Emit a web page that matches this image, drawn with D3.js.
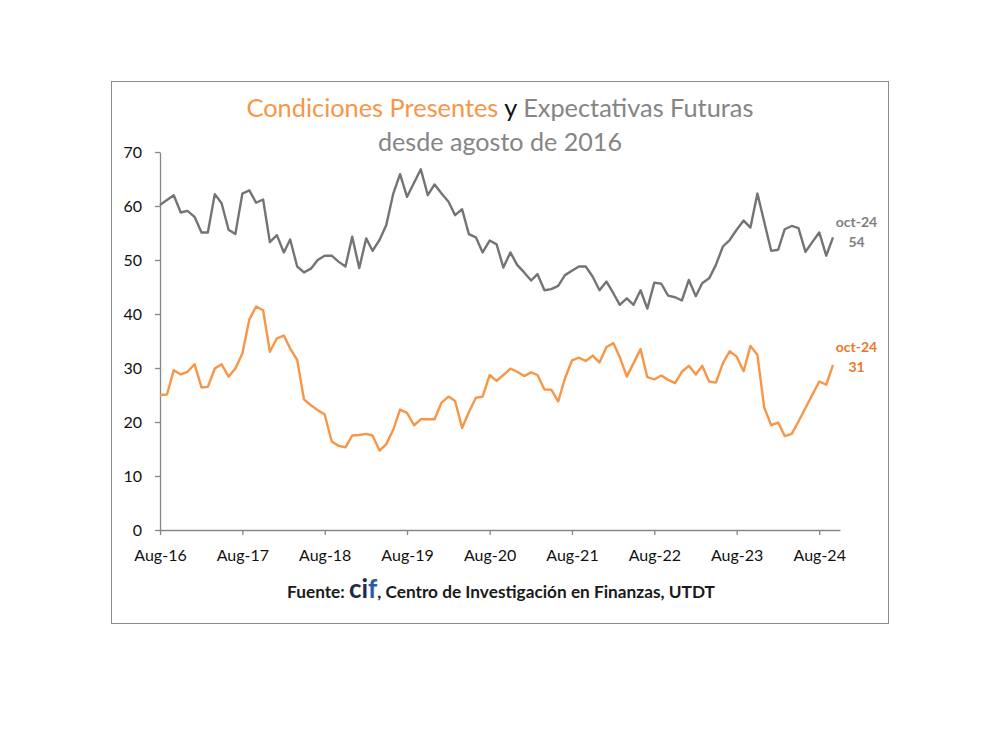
<!DOCTYPE html>
<html><head><meta charset="utf-8">
<script src="https://cdn.jsdelivr.net/npm/d3@7"></script>
<style>
body{margin:0;background:#fff;}
text{font-family:Lato,"Noto Sans",sans-serif;}
</style>
</head><body>
<svg id="chart" width="992" height="744"></svg>
<script>
// ---- data ----
const startMonth = "2016-08";
const expectativasFuturas = [
 60.2,61.1,62.0,58.8,59.1,58.0,55.1,55.1,62.2,60.5,
 55.6,54.8,62.3,62.9,60.6,61.2,53.3,54.6,51.4,53.8,
 48.8,47.7,48.4,50.0,50.8,50.8,49.7,48.8,54.3,48.5,
 54.0,51.7,53.7,56.5,62.3,65.9,61.7,64.3,66.8,62.0,
 64.0,62.3,60.8,58.3,59.4,54.8,54.2,51.4,53.6,52.9,
 48.6,51.4,49.1,47.7,46.2,47.4,44.4,44.6,45.2,47.2,
 48.0,48.8,48.8,46.9,44.4,46.0,43.8,41.7,42.9,41.7,
 44.4,41.0,45.8,45.6,43.4,43.1,42.5,46.3,43.3,45.7,
 46.6,49.1,52.5,53.7,55.6,57.3,56.0,62.3,57.1,51.7,
 51.9,55.7,56.3,55.9,51.5,53.3,55.1,50.8,54.2
];
const condicionesPresentes = [
 25.0,25.1,29.6,28.8,29.3,30.7,26.4,26.5,29.9,30.7,
 28.4,29.9,32.7,39.0,41.4,40.7,33.0,35.5,36.0,33.6,
 31.5,24.2,23.1,22.2,21.4,16.4,15.6,15.3,17.5,17.6,
 17.8,17.5,14.7,15.9,18.6,22.3,21.7,19.4,20.5,20.5,
 20.5,23.6,24.7,23.9,18.9,21.8,24.5,24.7,28.7,27.6,
 28.7,29.9,29.3,28.5,29.2,28.7,26.0,26.0,23.8,28.1,
 31.4,31.9,31.3,32.3,31.0,33.9,34.6,32.0,28.4,30.9,
 33.5,28.3,27.9,28.6,27.8,27.2,29.3,30.4,28.8,30.4,
 27.5,27.3,30.9,33.1,32.1,29.4,34.1,32.4,22.7,19.4,
 19.9,17.4,17.8,20.1,22.6,25.0,27.5,26.9,30.6
];
const yTicks = [0,10,20,30,40,50,60,70];
const xTickLabels = ["Aug-16","Aug-17","Aug-18","Aug-19","Aug-20","Aug-21","Aug-22","Aug-23","Aug-24"];
const lastLabel = "oct-24";
const lastValues = ["54","31"];

// ---- setup ----
const svg = d3.select("#chart");
const parseM = d3.timeParse("%Y-%m");
const start = parseM(startMonth);
const dates = d3.range(expectativasFuturas.length).map(i => d3.timeMonth.offset(start, i));
const domainEnd = d3.timeMonth.offset(start, expectativasFuturas.length);

const x = d3.scaleTime().domain([start, domainEnd]).range([160, 840]);
const y = d3.scaleLinear().domain([0, 70]).range([530, 152]);

const axisColor = "#868686";
const grayLine = "#747474";
const orangeLine = "#F79646";

// border
svg.append("rect").attr("x",111.5).attr("y",81.5).attr("width",777).attr("height",542)
  .attr("fill","#fff").attr("stroke","#8c8c8c").attr("stroke-width",1);

function fitText(sel, target){
  const w = sel.node().getComputedTextLength();
  const fs = parseFloat(sel.attr("font-size"));
  sel.attr("font-size", (fs*target/w).toFixed(2));
}

// title
const t1 = svg.append("text").attr("x",500).attr("y",117).attr("text-anchor","middle").attr("font-size",24);
t1.append("tspan").attr("fill","#F79646").text("Condiciones Presentes");
t1.append("tspan").attr("fill","#111").text(" y ");
t1.append("tspan").attr("fill","#858585").text("Expectativas Futuras");
fitText(t1, 507);
const t2 = svg.append("text").attr("x",500).attr("y",151).attr("text-anchor","middle").attr("font-size",24)
  .attr("fill","#858585").text("desde agosto de 2016");
fitText(t2, 244);

// axes
const tickDates = xTickLabels.map((d,i) => d3.timeMonth.offset(start, 12*i));
const gx = svg.append("g").attr("transform","translate(0,530)")
  .call(d3.axisBottom(x).tickValues(tickDates).tickFormat((d,i)=>xTickLabels[i]).tickSize(5).tickSizeOuter(0).tickPadding(15));
const gy = svg.append("g").attr("transform","translate(160,0)")
  .call(d3.axisLeft(y).tickValues(yTicks).tickSize(5).tickSizeOuter(0).tickPadding(13));
[gx,gy].forEach(g=>{
  g.selectAll("path,line").attr("stroke",axisColor).attr("stroke-width",1.3);
  g.selectAll("text").attr("fill","#111").attr("font-size",16).attr("font-family","Lato, sans-serif");
});

// lines
const line = vals => d3.line().x((d,i)=>x(dates[i])).y(d=>y(d))(vals);
svg.append("path").attr("d", line(expectativasFuturas)).attr("fill","none")
  .attr("stroke",grayLine).attr("stroke-width",2.4).attr("stroke-linejoin","round");
svg.append("path").attr("d", line(condicionesPresentes)).attr("fill","none")
  .attr("stroke",orangeLine).attr("stroke-width",2.4).attr("stroke-linejoin","round");

// end labels
const lastI = expectativasFuturas.length - 1;
const lx = x(dates[lastI]) + 23.5;
const labels = [
  {v: expectativasFuturas[lastI], txt: lastValues[0], color:"#7f7f7f", d1:-10, d2:9.5},
  {v: condicionesPresentes[lastI], txt: lastValues[1], color:"#E8782A", d1:-13, d2:7}
];
labels.forEach(l=>{
  const yy = y(l.v);
  svg.append("text").attr("x",lx).attr("y",yy+l.d1).attr("text-anchor","middle")
    .attr("font-size",14).attr("font-weight","bold").attr("fill",l.color).text(lastLabel);
  svg.append("text").attr("x",lx).attr("y",yy+l.d2).attr("text-anchor","middle")
    .attr("font-size",14).attr("font-weight","bold").attr("fill",l.color).text(l.txt);
});

// source
const src = svg.append("text").attr("x",501).attr("y",598).attr("text-anchor","middle")
  .attr("font-size",15).attr("font-weight","bold").attr("fill","#1a1a1a");
src.append("tspan").text("Fuente: ");
src.append("tspan").attr("font-size","1.5em").attr("fill","#1d2a4a").text("ci");
src.append("tspan").attr("font-size","1.5em").attr("fill","#2b5ca8").text("f");
src.append("tspan").text(", Centro de Investigación en Finanzas, UTDT");
fitText(src, 428);
</script>
</body></html>
